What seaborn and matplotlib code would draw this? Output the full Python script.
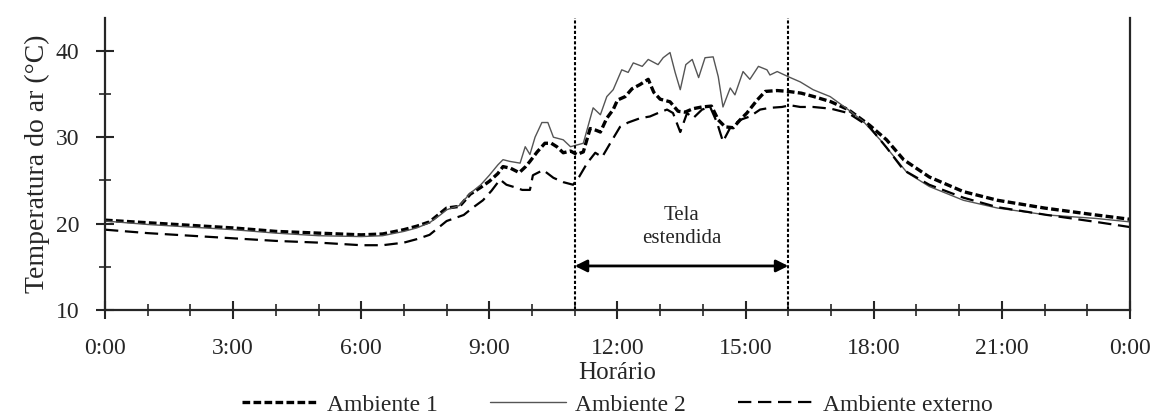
import numpy as np
import pandas as pd
import matplotlib
matplotlib.use("Agg")
import matplotlib.pyplot as plt
import seaborn as sns
from matplotlib.ticker import MultipleLocator, FixedLocator, FixedFormatter

# horas (decimal) e temperaturas
hora_amb1 = [0.0, 1.0, 2.0, 3.0, 4.0, 5.0, 6.0, 6.5, 7.0, 7.3, 7.6, 7.85, 8.0, 8.3, 8.55, 8.8,
             9.0, 9.2, 9.32, 9.5, 9.7, 9.85, 9.95, 10.12, 10.3, 10.45, 10.58, 10.73, 10.9, 11.05,
             11.2, 11.36, 11.5, 11.6, 11.75, 11.9, 12.0, 12.18, 12.34, 12.53, 12.72, 12.85, 13.0,
             13.23, 13.42, 13.58, 13.77, 13.98, 14.2, 14.36, 14.52, 14.71, 14.87, 15.03, 15.27,
             15.46, 15.74, 16.0, 16.3, 16.6, 17.0, 17.4, 17.9, 18.3, 18.7, 19.3, 20.1, 20.9,
             22.0, 23.2, 24.0]
temp_amb1 = [20.4, 20.1, 19.8, 19.5, 19.1, 18.9, 18.7, 18.8, 19.3, 19.7, 20.2, 21.2, 21.8, 22.0,
             23.4, 24.2, 24.9, 25.8, 26.6, 26.4, 25.9, 26.6, 27.2, 28.3, 29.3, 29.3, 28.9, 28.2,
             28.4, 28.0, 28.3, 31.0, 30.8, 30.6, 32.2, 33.2, 34.3, 34.7, 35.6, 36.1, 36.7, 35.2,
             34.4, 34.1, 33.0, 32.9, 33.3, 33.5, 33.6, 32.0, 31.2, 31.1, 32.0, 32.8, 34.3, 35.3,
             35.4, 35.3, 35.1, 34.7, 34.1, 33.2, 31.4, 29.7, 27.4, 25.4, 23.7, 22.7, 21.8, 21.0,
             20.5]

hora_amb2 = [0.0, 1.0, 2.0, 3.0, 4.0, 5.0, 6.0, 6.5, 7.0, 7.3, 7.6, 7.85, 8.0, 8.3, 8.55, 8.8,
             9.0, 9.2, 9.32, 9.48, 9.72, 9.84, 9.95, 10.07, 10.23, 10.37, 10.5, 10.73, 10.9,
             11.05, 11.2, 11.43, 11.6, 11.75, 11.9, 12.1, 12.25, 12.37, 12.58, 12.72, 12.95,
             13.07, 13.23, 13.35, 13.47, 13.6, 13.75, 13.9, 14.05, 14.24, 14.36, 14.47, 14.64,
             14.75, 14.94, 15.1, 15.3, 15.5, 15.57, 15.74, 16.0, 16.28, 16.58, 16.98, 17.4,
             17.76, 18.15, 18.4, 18.78, 19.3, 20.1, 20.9, 22.06, 23.2, 24.0]
temp_amb2 = [20.3, 19.9, 19.6, 19.3, 18.9, 18.6, 18.5, 18.6, 19.1, 19.5, 20.1, 21.0, 21.6, 22.1,
             23.5, 24.5, 25.6, 26.8, 27.4, 27.2, 27.0, 28.9, 28.0, 30.0, 31.7, 31.7, 30.0, 29.7,
             28.9, 29.1, 29.3, 33.4, 32.6, 34.7, 35.5, 37.8, 37.5, 38.6, 38.2, 39.0, 38.4, 39.2,
             39.8, 37.5, 35.5, 38.4, 39.0, 36.9, 39.2, 39.3, 37.0, 33.5, 35.7, 34.9, 37.6, 36.7,
             38.2, 37.8, 37.2, 37.6, 37.0, 36.4, 35.5, 34.7, 33.2, 31.8, 29.7, 28.2, 25.9, 24.3,
             22.7, 21.8, 21.0, 20.6, 20.2]

hora_ext = [0.0, 1.0, 2.0, 3.0, 4.0, 5.0, 6.0, 6.5, 7.0, 7.3, 7.6, 8.0, 8.4, 8.6, 8.85, 9.05,
            9.25, 9.4, 9.6, 9.77, 9.95, 10.02, 10.26, 10.5, 10.73, 10.96, 11.1, 11.29, 11.48,
            11.64, 11.83, 12.06, 12.25, 12.53, 12.76, 12.95, 13.16, 13.3, 13.47, 13.63, 13.77,
            13.98, 14.17, 14.33, 14.47, 14.64, 14.87, 15.1, 15.34, 15.57, 15.85, 16.04, 16.28,
            16.58, 17.0, 17.4, 17.9, 18.3, 18.7, 19.3, 20.1, 20.9, 22.06, 23.2, 24.0]
temp_ext = [19.3, 18.9, 18.6, 18.3, 18.0, 17.8, 17.5, 17.5, 17.8, 18.2, 18.7, 20.3, 21.0, 21.8,
            22.7, 23.8, 25.1, 24.5, 24.2, 23.9, 23.9, 25.6, 26.2, 25.3, 24.8, 24.5, 25.4, 27.0,
            28.2, 27.7, 29.3, 31.2, 31.7, 32.2, 32.4, 32.8, 33.2, 32.8, 30.6, 32.8, 32.2, 33.2,
            33.5, 31.7, 29.5, 31.1, 32.0, 32.4, 33.2, 33.4, 33.5, 33.7, 33.5, 33.5, 33.3, 32.8,
            31.2, 28.8, 26.2, 24.5, 23.0, 21.9, 21.0, 20.2, 19.6]

tick_horas = [0, 3, 6, 9, 12, 15, 18, 21, 24]
tick_labels = ["0:00", "3:00", "6:00", "9:00", "12:00", "15:00", "18:00", "21:00", "0:00"]
inicio_tela, fim_tela = 11, 16

sns.set_style("ticks")
plt.rcParams["font.family"] = ["Liberation Serif", "DejaVu Serif"]

fig = plt.figure(figsize=(11.56, 4.19), dpi=100)
ax = fig.add_axes([0.0908, 0.2601, 0.8867, 0.697])

sns.lineplot(x=hora_amb1, y=temp_amb1, ax=ax, color="black", linewidth=2.4,
             linestyle=(0, (2.3, 1.0)), label="Ambiente 1")
sns.lineplot(x=hora_amb2, y=temp_amb2, ax=ax, color="#555555", linewidth=1.0,
             linestyle="-", label="Ambiente 2")
sns.lineplot(x=hora_ext, y=temp_ext, ax=ax, color="black", linewidth=1.6,
             linestyle=(0, (6, 3)), label="Ambiente externo")

for h in (inicio_tela, fim_tela):
    ax.axvline(h, color="black", linewidth=1.5, linestyle=(0, (1.5, 1)))

ax.annotate("", xy=(inicio_tela, 15.1), xytext=(fim_tela, 15.1),
            arrowprops=dict(arrowstyle="<|-|>", color="black", lw=2, mutation_scale=18,
                            shrinkA=0, shrinkB=0))
ax.text((inicio_tela + fim_tela) / 2, 19.6, "Tela\nestendida", ha="center", va="center",
        fontsize=15, linespacing=1.3)

ax.set_xlim(0, 24)
ax.set_ylim(10, 43.8)
ax.xaxis.set_major_locator(FixedLocator(tick_horas))
ax.xaxis.set_major_formatter(FixedFormatter(tick_labels))
ax.xaxis.set_minor_locator(MultipleLocator(1))
ax.yaxis.set_major_locator(MultipleLocator(10))
ax.yaxis.set_minor_locator(MultipleLocator(5))
ax.tick_params(which="major", direction="inout", length=13, width=1.5, labelsize=17)
ax.tick_params(axis="x", which="major", pad=14)
ax.tick_params(axis="y", which="major", pad=12)
ax.tick_params(which="minor", direction="inout", length=9, width=1.2)

for s in ("left", "bottom", "right"):
    ax.spines[s].set_linewidth(1.6)
ax.spines["top"].set_visible(False)

ax.set_xlabel("Horário", fontsize=18, labelpad=2)
ax.set_ylabel("Temperatura do ar (°C)", fontsize=20, labelpad=4)

handles, labels = ax.get_legend_handles_labels()
ax.get_legend().remove()
fig.legend(handles, labels, loc="center", bbox_to_anchor=(0.534, 0.034), ncol=3,
           frameon=False, fontsize=17, handlelength=3.2, columnspacing=2.2,
           handletextpad=0.4)

fig.savefig("out.png", dpi=100)
